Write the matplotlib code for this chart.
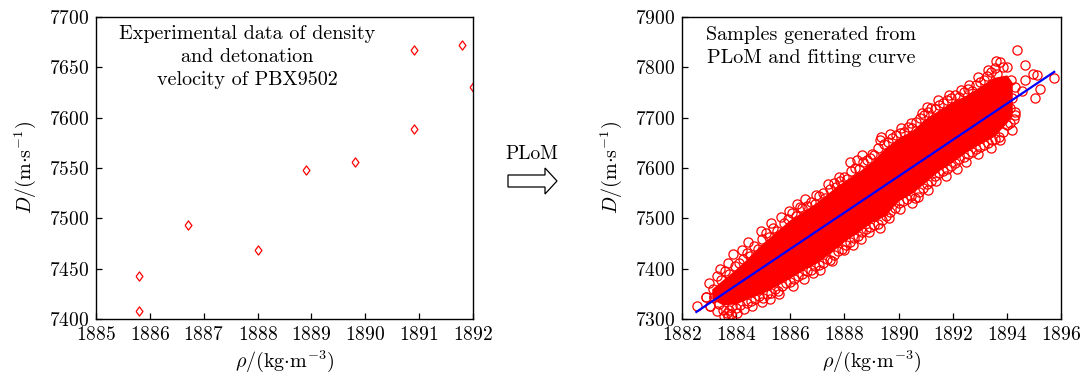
import matplotlib
matplotlib.use("Agg")
import matplotlib.pyplot as plt
import matplotlib.patches as mpatches

plt.rcParams["font.family"] = ["cmr10", "DejaVu Serif"]
plt.rcParams["mathtext.fontset"] = "cm"
plt.rcParams["axes.unicode_minus"] = False
plt.rcParams["axes.formatter.use_mathtext"] = True

# ---- experimental density / detonation velocity of PBX9502 ----
exp_rho = [1885.8, 1885.8, 1886.7, 1888.0, 1888.9, 1889.8, 1890.9, 1890.9, 1891.8, 1892.0]
exp_D = [7443, 7408, 7493, 7469, 7548, 7556, 7667, 7589, 7672, 7630]

left_xticks = [1885, 1886, 1887, 1888, 1889, 1890, 1891, 1892]
left_yticks = [7400, 7450, 7500, 7550, 7600, 7650, 7700]

# ---- PLoM samples ----
# dense core of the sample cloud (lower / upper limits)
dense_rho = [1883.1, 1883.5, 1884.0, 1884.5, 1885.0, 1885.5, 1886.0, 1886.5, 1887.0, 1887.5,
             1888.0, 1888.5, 1889.0, 1889.5, 1890.0, 1890.5, 1891.0, 1891.5, 1892.0, 1892.5,
             1893.0, 1893.5, 1894.0, 1894.2]
dense_lo = [7340, 7328, 7330, 7342, 7352, 7366, 7382, 7398, 7412, 7432,
            7455, 7472, 7492, 7505, 7535, 7550, 7572, 7595, 7612, 7632,
            7648, 7662, 7690, 7705]
dense_hi = [7360, 7378, 7400, 7425, 7452, 7475, 7498, 7515, 7533, 7555,
            7575, 7592, 7612, 7640, 7660, 7675, 7698, 7716, 7732, 7745,
            7762, 7780, 7785, 7770]

# samples along the upper side of the cloud
upper_rho = [1883.0, 1883.15, 1883.3, 1883.45, 1883.6, 1883.75, 1883.9, 1883.95, 1884.1, 1884.25,
             1884.4, 1884.5, 1884.65, 1884.8, 1884.95, 1885.1, 1885.2, 1885.35, 1885.5, 1885.65,
             1885.75, 1885.9, 1886.05, 1886.2, 1886.35, 1886.45, 1886.6, 1886.75, 1886.9, 1887.05,
             1887.2, 1887.3, 1887.45, 1887.6, 1887.7, 1887.85, 1888.0, 1888.1, 1888.25, 1888.4,
             1888.55, 1888.7, 1888.85, 1888.95, 1889.1, 1889.25, 1889.3, 1889.45, 1889.6, 1889.75,
             1889.9, 1890.05, 1890.2, 1890.35, 1890.5, 1890.65, 1890.8, 1890.95, 1891.1, 1891.2,
             1891.35, 1891.5, 1891.65, 1891.8, 1891.95, 1892.1, 1892.25, 1892.4, 1892.55, 1892.7,
             1892.85, 1893.0, 1893.15, 1893.25, 1893.4, 1893.55, 1893.65, 1893.75, 1893.85, 1894.0]
upper_D = [7372, 7360, 7385, 7378, 7395, 7390, 7430, 7405, 7412, 7420,
           7432, 7425, 7445, 7440, 7458, 7470, 7462, 7480, 7475, 7502,
           7490, 7498, 7510, 7505, 7522, 7520, 7525, 7532, 7528, 7545,
           7550, 7540, 7558, 7570, 7563, 7575, 7582, 7578, 7595, 7600,
           7598, 7612, 7615, 7620, 7625, 7640, 7655, 7648, 7652, 7660,
           7665, 7670, 7672, 7682, 7680, 7692, 7700, 7706, 7712, 7720,
           7718, 7726, 7730, 7735, 7740, 7745, 7742, 7750, 7756, 7752,
           7765, 7770, 7775, 7782, 7790, 7798, 7786, 7810, 7800, 7800]

# samples along the lower side of the cloud
lower_rho = [1882.9, 1883.05, 1883.2, 1883.35, 1883.5, 1883.65, 1883.75, 1883.85, 1884.0, 1884.15,
             1884.3, 1884.4, 1884.55, 1884.7, 1884.85, 1885.0, 1885.15, 1885.3, 1885.45, 1885.56,
             1885.7, 1885.85, 1886.0, 1886.15, 1886.3, 1886.45, 1886.6, 1886.75, 1886.9, 1887.05,
             1887.2, 1887.35, 1887.47, 1887.6, 1887.75, 1887.9, 1888.05, 1888.2, 1888.35, 1888.5,
             1888.65, 1888.8, 1888.95, 1889.1, 1889.25, 1889.4, 1889.55, 1889.7, 1889.85, 1890.0,
             1890.15, 1890.3, 1890.45, 1890.6, 1890.75, 1890.9, 1891.05, 1891.2, 1891.35, 1891.5,
             1891.65, 1891.8, 1891.95, 1892.1, 1892.25, 1892.4, 1892.55, 1892.7, 1892.85, 1893.0,
             1893.15, 1893.3, 1893.45, 1893.56, 1893.7, 1893.85, 1894.0, 1894.1, 1894.25, 1894.3]
lower_D = [7344, 7326, 7344, 7330, 7318, 7311, 7318, 7326, 7322, 7328,
           7320, 7332, 7336, 7340, 7345, 7342, 7350, 7352, 7360, 7355,
           7365, 7372, 7374, 7380, 7385, 7390, 7395, 7398, 7405, 7408,
           7412, 7420, 7417, 7428, 7435, 7440, 7448, 7452, 7460, 7465,
           7472, 7478, 7482, 7486, 7488, 7496, 7505, 7512, 7520, 7530,
           7535, 7538, 7545, 7540, 7552, 7560, 7568, 7575, 7585, 7590,
           7595, 7598, 7604, 7610, 7618, 7622, 7628, 7632, 7638, 7642,
           7645, 7650, 7655, 7657, 7662, 7672, 7685, 7690, 7698, 7705]

# looser samples just outside the upper and lower sides
outer_rho = [1883.4, 1883.7, 1884.2, 1884.45, 1884.9, 1885.3, 1885.95, 1886.25, 1886.55, 1886.95,
             1887.4, 1887.8, 1888.2, 1888.45, 1888.65, 1889.0, 1889.35, 1889.7, 1890.1, 1890.45,
             1890.85, 1891.05, 1891.45, 1891.85, 1892.3, 1892.6, 1892.95, 1893.3, 1893.6,
             1883.3, 1883.55, 1884.05, 1884.6, 1884.95, 1885.25, 1885.6, 1886.1, 1886.5, 1886.85,
             1887.1, 1887.55, 1888.0, 1888.3, 1888.6, 1888.9, 1889.3, 1889.65, 1890.05, 1890.5,
             1890.7, 1891.1, 1891.4, 1891.75, 1892.15, 1892.5, 1892.95, 1893.4, 1893.75, 1894.2]
outer_D = [7400, 7412, 7438, 7452, 7475, 7490, 7515, 7528, 7538, 7546,
           7568, 7582, 7612, 7615, 7625, 7628, 7662, 7668, 7680, 7690,
           7710, 7722, 7735, 7745, 7755, 7765, 7780, 7795, 7812,
           7315, 7305, 7312, 7325, 7333, 7340, 7350, 7365, 7380, 7392,
           7398, 7415, 7437, 7448, 7458, 7472, 7480, 7500, 7518, 7530,
           7543, 7556, 7575, 7585, 7598, 7612, 7628, 7640, 7655, 7675]

# scattered samples at both ends of the cloud
end_rho = [1882.54, 1882.89, 1883.19, 1883.03, 1883.7, 1883.8, 1894.1, 1894.2, 1894.3, 1894.15,
           1894.3, 1893.95, 1893.9, 1894.37, 1894.67, 1894.98, 1894.67, 1895.23, 1895.04, 1895.74,
           1894.57, 1895.1]
end_D = [7326, 7344, 7344, 7326, 7305, 7310, 7720, 7740, 7760, 7775,
         7712, 7760, 7740, 7834, 7804, 7787, 7775, 7757, 7740, 7779,
         7753, 7785]

# fitted line D = a + b * rho
fit_rho = [1882.53, 1895.75]
fit_D = [7314, 7791]

right_xticks = [1882, 1884, 1886, 1888, 1890, 1892, 1894, 1896]
right_yticks = [7300, 7400, 7500, 7600, 7700, 7800, 7900]

W, H = 1086, 377
fig = plt.figure(figsize=(W / 100, H / 100), dpi=100)

ax1 = fig.add_axes([96 / W, 58 / H, 377 / W, 302 / H])
ax2 = fig.add_axes([682 / W, 58 / H, 379 / W, 302 / H])

RED = (1.0, 0.0, 0.0)
diamond = [(-0.75, 0), (0, 1), (0.75, 0), (0, -1), (-0.75, 0)]

ax1.plot(exp_rho, exp_D, linestyle="none", marker=diamond, markersize=6.6,
         markerfacecolor="none", markeredgecolor=RED, markeredgewidth=0.9)
ax1.set_xlim(1885, 1892)
ax1.set_ylim(7400, 7700)
ax1.set_xticks(left_xticks)
ax1.set_yticks(left_yticks)

ax2.fill_between(dense_rho, dense_lo, dense_hi, color=RED, linewidth=0)
for xs, ys in ((upper_rho, upper_D), (lower_rho, lower_D),
               (outer_rho, outer_D), (end_rho, end_D)):
    ax2.plot(xs, ys, linestyle="none", marker="o", markersize=6.6,
             markerfacecolor="none", markeredgecolor=RED, markeredgewidth=0.9)
ax2.plot(fit_rho, fit_D, color=(0, 0, 1.0), linewidth=1.6)
ax2.set_xlim(1882, 1896)
ax2.set_ylim(7300, 7900)
ax2.set_xticks(right_xticks)
ax2.set_yticks(right_yticks)

for ax in (ax1, ax2):
    for s in ax.spines.values():
        s.set_linewidth(1.0)
    ax.tick_params(direction="in", length=4.5, width=0.9, labelsize=14,
                   top=False, right=False)
    ax.tick_params(axis="x", pad=5)
    ax.tick_params(axis="y", pad=5)
    ax.set_xlabel(r"$\rho/(\mathrm{kg{\cdot}m^{-3}})$", fontsize=14.5, labelpad=3)
    ax.set_ylabel(r"$D/(\mathrm{m{\cdot}s^{-1}})$", fontsize=14.5, labelpad=8)

# overlay in pixel units for annotations and the arrow
ov = fig.add_axes([0, 0, 1, 1], facecolor="none")
ov.set_xlim(0, W)
ov.set_ylim(H, 0)
ov.axis("off")

ov.text(247, 57, "Experimental data of density\nand detonation\nvelocity of PBX9502",
        ha="center", va="center", fontsize=14.5, linespacing=1.38)
ov.text(811, 46.5, "Samples generated from\nPLoM and fitting curve",
        ha="center", va="center", fontsize=14.5, linespacing=1.38)

ov.text(532, 154, "PLoM", ha="center", va="center", fontsize=14)
ov.add_patch(mpatches.FancyArrow(508, 181, 49, 0, width=12, head_width=26,
                                 head_length=12, length_includes_head=True,
                                 fill=False, edgecolor="black", linewidth=0.9))

fig.savefig("out.png", dpi=100)
